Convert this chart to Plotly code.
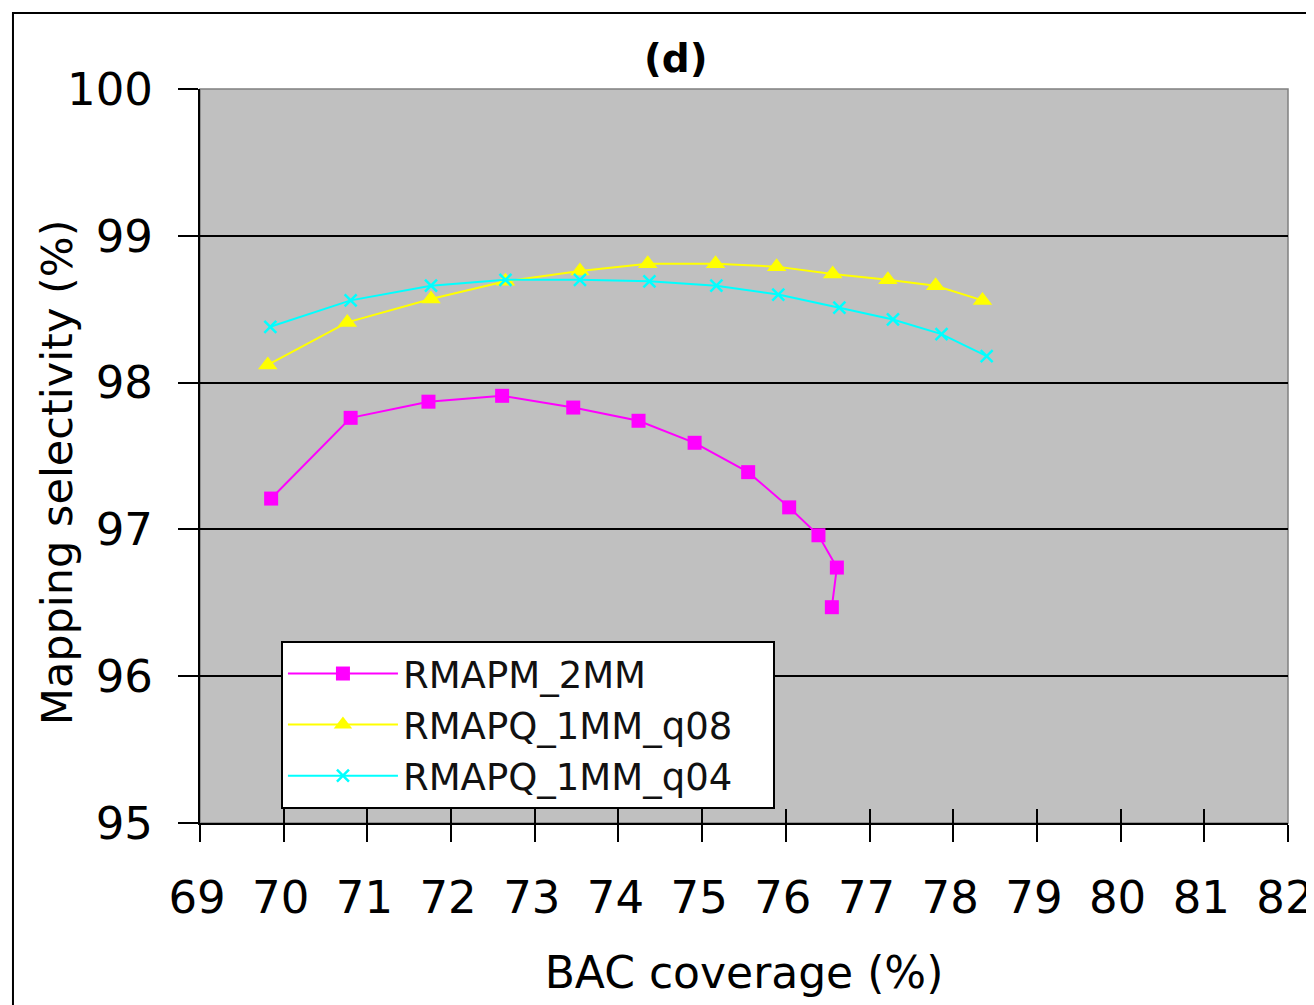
import plotly.graph_objects as go

# ---- data ----
COV_M2 = [69.85, 70.80, 71.73, 72.61, 73.46, 74.24, 74.91, 75.55, 76.04, 76.39, 76.61, 76.55]
SEL_M2 = [97.21, 97.76, 97.87, 97.91, 97.83, 97.74, 97.59, 97.39, 97.15, 96.96, 96.74, 96.47]

COV_Q08 = [69.81, 70.76, 71.76, 72.65, 73.54, 74.35, 75.16, 75.89, 76.56, 77.22, 77.79, 78.35]
SEL_Q08 = [98.12, 98.41, 98.57, 98.69, 98.76, 98.81, 98.81, 98.79, 98.74, 98.70, 98.66, 98.56]

COV_Q04 = [69.84, 70.80, 71.76, 72.65, 73.54, 74.37, 75.17, 75.91, 76.64, 77.28, 77.86, 78.40]
SEL_Q04 = [98.38, 98.56, 98.66, 98.70, 98.70, 98.69, 98.66, 98.60, 98.51, 98.43, 98.33, 98.18]

NAMES = ["RMAPM_2MM", "RMAPQ_1MM_q08", "RMAPQ_1MM_q04"]
X_TICKS = list(range(69, 83))
Y_TICKS = [95, 96, 97, 98, 99, 100]
Y_GRID = [96, 97, 98, 99]
X_RANGE = [69, 82.0005]
Y_RANGE = [95, 100]

FONT = "DejaVu Sans, sans-serif"
PAD = "\u00a0" * 3  # right padding inside legend box

fig = go.Figure()
fig.add_trace(go.Scatter(x=COV_M2, y=SEL_M2, name=NAMES[0] + PAD, mode="lines+markers",
                         line=dict(color="#ff00ff", width=2),
                         marker=dict(symbol="square", size=14, color="#ff00ff")))
fig.add_trace(go.Scatter(x=COV_Q08, y=SEL_Q08, name=NAMES[1] + PAD, mode="lines+markers",
                         line=dict(color="#ffff00", width=2),
                         marker=dict(symbol="triangle-up", size=17, color="#ffff00")))
fig.add_trace(go.Scatter(x=COV_Q04, y=SEL_Q04, name=NAMES[2] + PAD, mode="lines+markers",
                         line=dict(color="#00ffff", width=2),
                         marker=dict(symbol="x-thin-open", size=12,
                                     line=dict(color="#00ffff", width=2.5))))
# invisible anchors for overlay axes (grid lines / inner ticks)
fig.add_trace(go.Scatter(x=COV_Q04, y=SEL_Q04, mode="none", showlegend=False,
                         hoverinfo="skip", xaxis="x2", yaxis="y2"))
fig.add_trace(go.Scatter(x=COV_Q04, y=SEL_Q04, mode="none", showlegend=False,
                         hoverinfo="skip", xaxis="x2", yaxis="y3"))

tickfont = dict(family=FONT, size=45, color="black")

fig.update_layout(
    width=1306, height=997,
    margin=dict(l=192, r=26, t=81, b=182, autoexpand=False),
    paper_bgcolor="white",
    plot_bgcolor="#c0c0c0",
    showlegend=True,
    xaxis=dict(range=X_RANGE, tickvals=X_TICKS, ticks="outside", ticklen=17,
               tickwidth=2, tickcolor="black", showgrid=False, zeroline=False,
               showline=True, linecolor="black", linewidth=2, automargin=False,
               tickfont=tickfont, ticklabelstandoff=17, ticklabeloverflow="allow",
               ticklabelshift=-3,
               title=dict(text="BAC coverage (%)", font=dict(family=FONT, size=44, color="black"),
                          standoff=34)),
    yaxis=dict(range=Y_RANGE, tickvals=Y_TICKS, ticks="outside", ticklen=20,
               tickwidth=2, tickcolor="black", showgrid=False, zeroline=False,
               showline=True, linecolor="black", linewidth=2, automargin=False,
               tickfont=tickfont, ticklabelstandoff=16),
    xaxis2=dict(range=X_RANGE, tickvals=X_TICKS, ticks="inside", ticklen=14,
                tickwidth=2, tickcolor="black", showticklabels=False, showgrid=False,
                zeroline=False, overlaying="x", side="bottom"),
    yaxis2=dict(range=Y_RANGE, tickvals=Y_TICKS, ticks="inside", ticklen=13,
                tickwidth=2, tickcolor="black", showticklabels=False, showgrid=False,
                zeroline=False, overlaying="y", side="left"),
    yaxis3=dict(range=Y_RANGE, tickvals=Y_GRID, ticks="", showticklabels=False,
                showgrid=True, gridcolor="black", gridwidth=2,
                zeroline=False, overlaying="y", side="left"),
    legend=dict(x=0.0744, y=0.248, xanchor="left", yanchor="top",
                bgcolor="white", bordercolor="black", borderwidth=2,
                font=dict(family=FONT, size=37, color="#111111"),
                itemwidth=110, tracegroupgap=0),
    annotations=[
        dict(text="<b>(d)</b>", x=0.4375, y=1.042, xref="paper", yref="paper",
             xanchor="center", yanchor="middle", showarrow=False,
             font=dict(family=FONT, size=39, color="black")),
        dict(text="Mapping selectivity (%)", x=-0.1314, y=0.478, xref="paper", yref="paper",
             xanchor="center", yanchor="middle", textangle=-90, showarrow=False,
             font=dict(family=FONT, size=43, color="black")),
    ],
    shapes=[
        # thin grey border on the top/right of plot area
        dict(type="rect", xref="x domain", yref="y domain", x0=0, x1=1, y0=0, y1=1,
             line=dict(color="#808080", width=1.5), layer="below"),
        # outer chart frame
        dict(type="rect", xref="paper", yref="paper", x0=-0.1719, x1=1.05, y0=-0.35, y1=1.1035,
             line=dict(color="black", width=2), layer="below"),
    ],
)

fig.write_html("out.html")
